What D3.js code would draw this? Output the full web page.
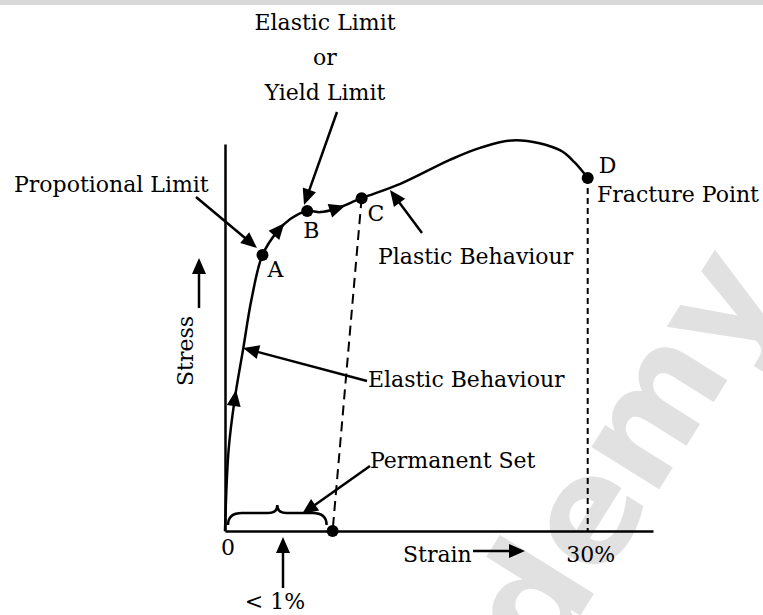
<!DOCTYPE html>
<html>
<head>
<meta charset="utf-8">
<script src="https://cdn.jsdelivr.net/npm/d3@7"></script>
<style>
  body { margin: 0; background: #fff; }
  svg text { font-family: "DejaVu Serif", serif; font-size: 22px; fill: #000; }
</style>
</head>
<body>
<script>
// stress-strain curve, strain in %, stress in arbitrary units
const strain = [0, 0.3, 0.8, 1.5, 2.2, 3.1, 4.3, 5.4, 6.8, 7.9, 9.1, 11.3, 14.5, 18.6, 21.1, 24.1, 27.7, 28.9, 30];
const stress = [0, 21, 34, 47, 60, 71.3, 77.3, 80.6, 82.7, 82.4, 83.2, 86, 89.7, 95.9, 99, 101, 98.4, 95.3, 91.2];

const pointNames = ["A", "B", "C", "D"];
const pointStrain = [3.1, 6.8, 11.3, 30];
const pointStress = [71.3, 82.7, 86, 91.2];

const permanentSet = 8.9;          // strain left after unloading from C
const flowArrowStrain = [0.8, 4.4, 9.2];
const xMax = 35.4, yMax = 100;

const width = 763, height = 615;

const svg = d3.select("body").append("svg")
    .attr("width", width)
    .attr("height", height);

// grey strip along the top edge
svg.append("rect").attr("width", width).attr("height", 5).attr("fill", "#d9d9d9");

// faint watermark behind the drawing
svg.append("text")
    .attr("transform", "translate(545,672) rotate(-58)")
    .style("font-family", "'DejaVu Sans', sans-serif")
    .style("font-weight", "bold")
    .style("font-size", "146px")
    .style("fill", "#e1e1e1")
    .text("demy");

const x = d3.scaleLinear().domain([0, xMax]).range([225, 653]);
const y = d3.scaleLinear().domain([0, yMax]).range([531, 144]);

// axes without ticks
const xAxis = svg.append("g")
    .attr("transform", `translate(0,${y(0)})`)
    .call(d3.axisBottom(x).tickValues([]).tickSizeOuter(0));
const yAxis = svg.append("g")
    .attr("transform", `translate(${x(0)},0)`)
    .call(d3.axisLeft(y).tickValues([]).tickSizeOuter(0));
[xAxis, yAxis].forEach(a => a.select(".domain").attr("stroke", "#000").attr("stroke-width", 2.5));

// dashed unloading line C -> permanent set, and D -> 30%
svg.append("line")
    .attr("x1", x(pointStrain[2])).attr("y1", y(pointStress[2]))
    .attr("x2", x(permanentSet)).attr("y2", y(0))
    .attr("stroke", "#000").attr("stroke-width", 2).attr("stroke-dasharray", "10,6");
svg.append("line")
    .attr("x1", x(pointStrain[3])).attr("y1", y(pointStress[3]))
    .attr("x2", x(30)).attr("y2", y(0))
    .attr("stroke", "#000").attr("stroke-width", 2).attr("stroke-dasharray", "6,4");

// main curve
const line = d3.line()
    .x(i => x(strain[i]))
    .y(i => y(stress[i]))
    .curve(d3.curveCatmullRom.alpha(0.5));

const curve = svg.append("path")
    .attr("d", line(d3.range(strain.length)))
    .attr("fill", "none")
    .attr("stroke", "#000")
    .attr("stroke-width", 2.5);

// small triangles along the curve showing loading direction
const node = curve.node();
const total = node.getTotalLength();
flowArrowStrain.forEach(s => {
    let len = 0;
    while (len < total && node.getPointAtLength(len).x < x(s)) len += 0.5;
    const p = node.getPointAtLength(len);
    const a = node.getPointAtLength(Math.max(0, len - 2));
    const b = node.getPointAtLength(Math.min(total, len + 2));
    const ang = Math.atan2(b.y - a.y, b.x - a.x);
    svg.append("path")
        .attr("d", "M9,0L-7,-7L-7,7Z")
        .attr("transform", `translate(${p.x},${p.y}) rotate(${ang * 180 / Math.PI})`)
        .attr("fill", "#000");
});

// labelled points
svg.selectAll(".pt")
    .data(pointNames)
    .enter()
    .append("circle")
    .attr("class", "pt")
    .attr("cx", (d, i) => x(pointStrain[i]))
    .attr("cy", (d, i) => y(pointStress[i]))
    .attr("r", 6);
svg.append("circle").attr("cx", x(permanentSet)).attr("cy", y(0)).attr("r", 6);

const labelOffset = {A: [5, 22], B: [-4, 27], C: [6, 23], D: [11, -5]};
svg.selectAll(".ptlabel")
    .data(pointNames)
    .enter()
    .append("text")
    .attr("x", (d, i) => x(pointStrain[i]) + labelOffset[d][0])
    .attr("y", (d, i) => y(pointStress[i]) + labelOffset[d][1])
    .text(d => d);

// straight annotation arrows
function arrow(x1, y1, x2, y2) {
    const ang = Math.atan2(y2 - y1, x2 - x1);
    const head = 16;
    svg.append("line")
        .attr("x1", x1).attr("y1", y1)
        .attr("x2", x2 - Math.cos(ang) * (head - 2)).attr("y2", y2 - Math.sin(ang) * (head - 2))
        .attr("stroke", "#000").attr("stroke-width", 2.5);
    svg.append("path")
        .attr("d", `M0,0L${-head},-7L${-head},7Z`)
        .attr("transform", `translate(${x2},${y2}) rotate(${ang * 180 / Math.PI})`)
        .attr("fill", "#000");
}

function label(txt, tx, ty, anchor) {
    svg.append("text").attr("x", tx).attr("y", ty)
        .attr("text-anchor", anchor || "start").text(txt);
}

label("Elastic Limit", 325, 30, "middle");
label("or", 325, 65, "middle");
label("Yield Limit", 325, 100, "middle");
arrow(337, 112, 304, 205);

label("Propotional Limit", 14, 192);
arrow(196, 197, 257, 248);

label("Fracture Point", 597, 202);

label("Plastic Behaviour", 378, 264);
arrow(422, 233, 390, 190);

label("Elastic Behaviour", 368, 387);
arrow(367, 381, 243, 348);

label("Permanent Set", 370, 468);
arrow(370, 466, 302, 514);

// brace over the permanent set
const bx0 = x(0) + 3, bx1 = x(permanentSet) - 6, bm = (bx0 + bx1) / 2, by = 513;
svg.append("path")
    .attr("d", `M${bx0},${by + 12} Q${bx0},${by} ${bx0 + 14},${by} L${bm - 9},${by} Q${bm},${by} ${bm},${by - 8}
                Q${bm},${by} ${bm + 9},${by} L${bx1 - 14},${by} Q${bx1},${by} ${bx1},${by + 12}`)
    .attr("fill", "none").attr("stroke", "#000").attr("stroke-width", 2.5);

// axis captions
label("0", x(0) + 3, 555, "middle");
label("30%", x(30) + 3, 562, "middle");
label("Strain", 403, 562);
arrow(473, 551, 525, 551);
arrow(x(0) + 58, 588, x(0) + 58, 537);
label("< 1%", 275, 609, "middle");

svg.append("text")
    .attr("transform", "translate(193,351) rotate(-90)")
    .attr("text-anchor", "middle")
    .text("Stress");
arrow(199, 308, 199, 258);
</script>
</body>
</html>
